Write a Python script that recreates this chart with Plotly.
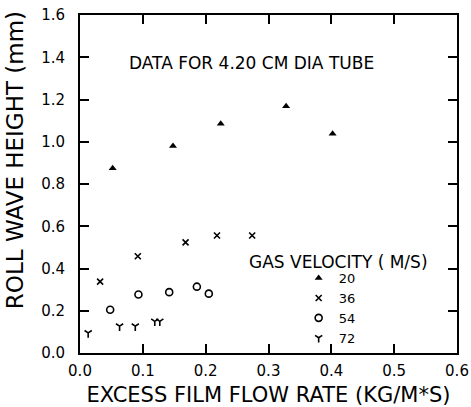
import plotly.graph_objects as go

# Gas velocity 20 m/s
x20 = [0.052, 0.148, 0.224, 0.328, 0.402]
y20 = [0.875, 0.980, 1.085, 1.168, 1.038]
# Gas velocity 36 m/s
x36 = [0.032, 0.092, 0.168, 0.218, 0.274]
y36 = [0.338, 0.458, 0.524, 0.556, 0.556]
# Gas velocity 54 m/s
x54 = [0.048, 0.093, 0.142, 0.186, 0.205]
y54 = [0.205, 0.277, 0.288, 0.314, 0.281]
# Gas velocity 72 m/s
x72 = [0.013, 0.063, 0.088, 0.119, 0.127]
y72 = [0.095, 0.127, 0.127, 0.150, 0.150]

labels = ["20", "36", "54", "72"]
xticks = [0.0, 0.1, 0.2, 0.3, 0.4, 0.5, 0.6]
yticks = [0.0, 0.2, 0.4, 0.6, 0.8, 1.0, 1.2, 1.4, 1.6]

FONT = "DejaVu Sans"

fig = go.Figure()
fig.add_trace(go.Scatter(x=x20, y=y20, mode="markers", name=labels[0],
                         marker=dict(symbol="triangle-up", size=7, color="black")))
fig.add_trace(go.Scatter(x=x36, y=y36, mode="markers", name=labels[1],
                         marker=dict(symbol="x-thin", size=6, color="black",
                                     line=dict(width=1.6, color="black"))))
fig.add_trace(go.Scatter(x=x54, y=y54, mode="markers", name=labels[2],
                         marker=dict(symbol="circle-open", size=7, color="black",
                                     line=dict(width=1.6, color="black"))))
fig.add_trace(go.Scatter(x=x72, y=y72, mode="markers", name=labels[3],
                         marker=dict(symbol="y-down", size=6, color="black",
                                     line=dict(width=1.6, color="black"))))

axis_common = dict(
    showline=True, linewidth=2, linecolor="black", mirror="ticks",
    ticks="inside", ticklen=9, tickwidth=1.5, tickcolor="black",
    showgrid=False, zeroline=False, automargin=False,
    tickfont=dict(family=FONT, size=15, color="black"),
)

fig.update_xaxes(range=[0, 0.6], tickvals=xticks, tickformat=".1f",
                 ticklabelstandoff=3,
                 title=dict(text="EXCESS FILM FLOW RATE (KG/M*S)",
                            font=dict(family=FONT, size=21, color="black"),
                            standoff=12),
                 **axis_common)
fig.update_yaxes(range=[0, 1.6], tickvals=yticks, tickformat=".1f",
                 ticklabelstandoff=10,
                 **axis_common)

# y-axis title (placed above centre, as in the original)
fig.add_annotation(text="ROLL WAVE HEIGHT (mm)", xref="paper", yref="paper",
                   x=(15 - 80) / 377, y=(352.7 - 160) / 337.7,
                   xanchor="center", yanchor="middle", textangle=-90,
                   showarrow=False,
                   font=dict(family=FONT, size=23, color="black"))
fig.add_annotation(text="DATA FOR 4.20 CM DIA TUBE", xref="paper", yref="paper",
                   x=(251.5 - 80) / 377, y=(352.7 - 63) / 337.7,
                   xanchor="center", yanchor="middle", showarrow=False,
                   font=dict(family=FONT, size=17, color="black"))
fig.add_annotation(text="GAS VELOCITY ( M/S)", xref="paper", yref="paper",
                   x=(338.5 - 80) / 377, y=(352.7 - 262) / 337.7,
                   xanchor="center", yanchor="middle", showarrow=False,
                   font=dict(family=FONT, size=17, color="black"))

fig.update_layout(
    width=471, height=407,
    margin=dict(l=80, r=14, t=15, b=54),
    paper_bgcolor="white", plot_bgcolor="white",
    showlegend=True,
    legend=dict(x=0.58, y=0.266, xanchor="left", yanchor="top",
                bgcolor="rgba(0,0,0,0)", borderwidth=0,
                font=dict(family=FONT, size=13, color="black"),
                itemwidth=30, tracegroupgap=0),
    font=dict(family=FONT, color="black"),
)

fig.write_html("out.html", config={"displayModeBar": False},
               post_script="document.body.style.margin='0px';document.body.style.padding='0px';")
